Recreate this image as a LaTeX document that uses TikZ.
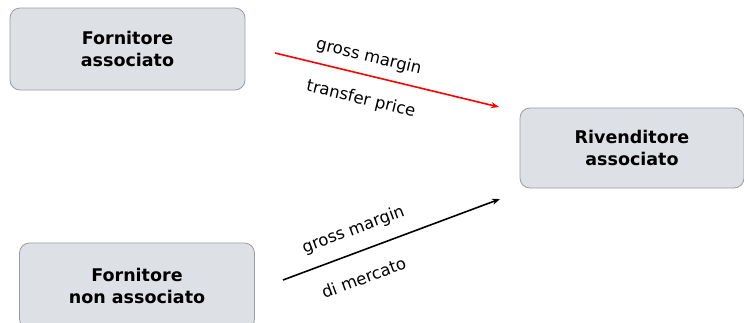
\documentclass[tikz,border=0pt]{standalone}
\usepackage{fontspec}
\setmainfont{DejaVu Sans}
\usetikzlibrary{arrows.meta}
\definecolor{boxfill}{HTML}{DDE0E5}
\definecolor{boxline}{HTML}{9A9C9F}
\begin{document}
\begin{tikzpicture}[x=1pt,y=-1pt,
  actor/.style={draw=boxline, line width=0.8pt, fill=boxfill, rounded corners=10pt,
    align=center, font=\fontsize{17.5}{22}\selectfont\bfseries, inner sep=0pt},
  flow/.style={line width=1.6pt, -{Stealth[length=8pt,width=6pt]}},
  lbl/.style={font=\fontsize{16.5}{19}\selectfont, text=black, sloped, inner sep=0pt}]
\useasboundingbox (0,0) rectangle (744,322);
\node[actor, minimum width=235pt, minimum height=82pt] (fa) at (127.5,49) {Fornitore\\associato};
\node[actor, minimum width=224pt, minimum height=80pt] (ra) at (632,148) {Rivenditore\\associato};
\node[actor, minimum width=235pt, minimum height=86pt] (fn) at (137,286) {Fornitore\\non associato};
\coordinate (r1) at (275,53);
\coordinate (r2) at (499,107);
\coordinate (b1) at (283,280);
\coordinate (b2) at (500,199);
\draw[flow, red] (r1) -- (r2)
  node[lbl, pos=0.40, yshift=18pt] {gross margin}
  node[lbl, pos=0.41, yshift=-25pt] {transfer price};
\draw[flow, black] (b1) -- (b2)
  node[lbl, pos=0.36, yshift=22pt] {gross margin}
  node[lbl, pos=0.33, yshift=-26pt] {di mercato};
\end{tikzpicture}
\end{document}
